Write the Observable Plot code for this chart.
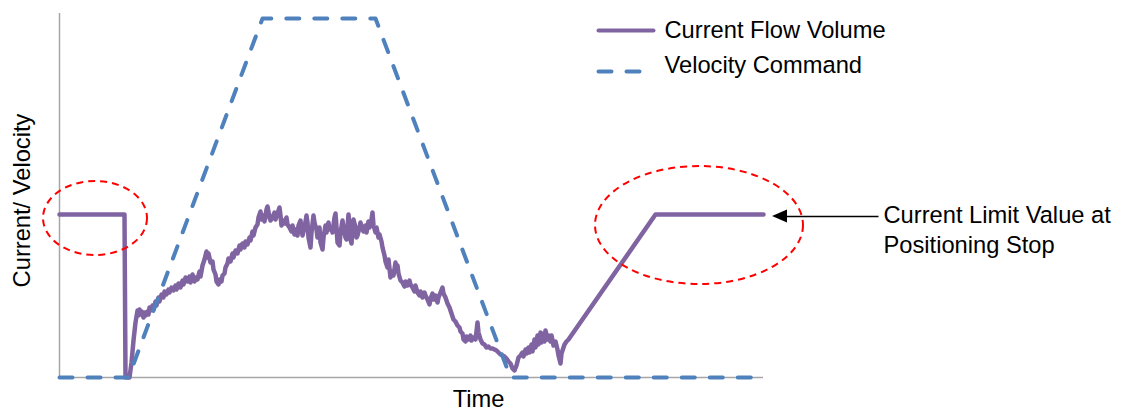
<!DOCTYPE html>
<html><head><meta charset="utf-8">
<script src="https://cdn.jsdelivr.net/npm/d3@7"></script>
<script src="https://cdn.jsdelivr.net/npm/@observablehq/plot@0.6"></script>
<style>body{margin:0;background:#fff;}</style>
</head><body><div id="chart"></div>
<script>
// Current Flow Volume (time units, current units)
const currentTime = [0,65,66,70,72,74,76,78,79,80,81,82,84,85,86,88,89,90,91,93,94,96,97,99,100,102,104,105,107,109,110,112,114,116,117,119,121,123,124,126,128,130,131,133,135,136,138,140,141,143,145,147,148,149,151,153,154,156,157,159,160,162,163,165,166,168,169,171,173,174,176,178,180,181,183,185,186,188,190,191,193,194,196,198,199,201,202,204,205,207,208,210,211,213,215,216,218,220,221,222,224,225,227,228,230,232,233,235,236,238,239,241,242,243,245,247,248,249,251,252,254,255,257,258,260,261,263,264,266,267,269,270,272,273,275,276,277,278,280,281,283,284,286,287,288,289,290,291,292,293,294,296,297,298,300,301,303,304,306,307,309,310,312,313,314,316,317,319,320,322,323,325,326,328,329,331,332,334,336,337,338,339,341,343,345,346,348,350,351,353,355,356,358,360,361,363,365,366,368,370,371,373,374,376,378,379,381,383,384,386,388,390,392,394,396,398,400,401,403,404,406,407,409,411,412,414,416,417,418,419,421,423,425,427,429,431,433,435,437,439,441,443,445,447,449,451,453,455,457,459,461,463,464,466,467,469,470,472,473,475,476,478,479,481,482,484,485,486,488,489,491,492,494,496,498,499,501,502,504,505,507,509,596,704];
const currentValue = [163,163,0,0,15,37,55,67,62,68,63,66,60,65,62,66,63,70,67,72,68,76,72,80,76,83,80,86,83,88,85,90,87,92,88,94,90,97,93,100,96,101,95,103,96,100,98,106,101,112,118,126,120,124,115,116,108,103,96,93,98,96,102,104,110,114,119,116,124,120,127,124,132,128,134,130,136,133,140,137,146,142,150,153,160,166,158,162,156,168,171,160,157,160,165,158,164,170,162,152,157,154,160,153,150,146,152,143,148,142,152,157,148,142,150,162,155,140,130,145,162,155,148,140,150,135,128,140,152,145,155,148,150,145,160,164,150,135,132,145,157,150,140,138,150,163,150,138,134,148,158,150,140,142,150,155,148,146,152,145,156,150,158,165,152,145,150,140,143,136,130,122,116,110,118,100,106,102,115,108,112,104,97,95,91,96,92,97,93,90,86,92,85,82,86,80,85,82,78,73,79,84,78,82,75,80,85,90,84,80,74,70,64,58,56,52,50,46,44,38,36,41,38,42,37,40,38,46,55,45,38,34,33,30,31,29,29,28,27,25,23,22,21,19,16,14,9,7,12,20,22,25,21,28,24,30,25,33,26,38,30,42,33,45,35,44,36,47,38,42,36,42,32,36,28,22,14,24,30,33,36,38,163,163];
// Velocity Command
const velocityTime = [0,69,203,316,451,704];
const velocityValue = [0,0,359,359,0,0];
const seriesNames = ["Current Flow Volume","Velocity Command"];
const xLabel = "Time";
const yLabel = "Current/ Velocity";
const annotationLines = ["Current Limit Value at","Positioning Stop"];

const purple = "#8064a2", blue = "#4f81bd", red = "#ff0000", axisGray = "#a6a6a6";
const current = currentTime.map((t,i)=>({t, v: currentValue[i]}));
const velocity = velocityTime.map((t,i)=>({t, v: velocityValue[i]}));
const font = "'Liberation Sans', Arial, sans-serif";
const fs = 23.7;

const plot = Plot.plot({
  width: 1127, height: 412,
  marginLeft: 59, marginRight: 364, marginTop: 13, marginBottom: 35,
  x: {domain: [0, 704], axis: null},
  y: {domain: [0, 364], axis: null},
  style: {fontFamily: font, background: "#fff", overflow: "visible"},
  marks: [
    Plot.ruleX([0], {y1: 0, y2: 364, stroke: axisGray, strokeWidth: 1.5}),
    Plot.ruleY([0], {x1: 0, x2: 704, stroke: axisGray, strokeWidth: 1.5}),
    Plot.line(current, {x: "t", y: "v", stroke: purple, strokeWidth: 4.5, strokeLinejoin: "round", curve: "linear"}),
    Plot.line(velocity, {x: "t", y: "v", stroke: blue, strokeWidth: 4, strokeDasharray: "13,15", strokeLinecap: "round"}),
    // legend
    Plot.line([{t:539,v:347},{t:594,v:347}], {x:"t", y:"v", stroke: purple, strokeWidth: 4}),
    Plot.line([{t:539,v:306},{t:584,v:306}], {x:"t", y:"v", stroke: blue, strokeWidth: 4, strokeDasharray: "13,15", strokeLinecap: "round"}),
    Plot.text([{t:605,v:347,s:seriesNames[0]},{t:605,v:312,s:seriesNames[1]}], {x:"t", y:"v", text:"s", textAnchor:"start", fontSize: fs, fill:"#000"}),
    // annotation text
    Plot.text([{t:824,v:162,s:annotationLines[0]},{t:824,v:132,s:annotationLines[1]}], {x:"t", y:"v", text:"s", textAnchor:"start", fontSize: fs, fill:"#000"}),
    Plot.link([{x1:819,x2:727,y:161}], {x1:"x1", x2:"x2", y1:"y", y2:"y", stroke:"#000", strokeWidth:1.5}),
    // axis labels
    Plot.text([{t:419,v:-22,s:xLabel}], {x:"t", y:"v", text:"s", fontSize: fs, fill:"#000"}),
    Plot.text([{t:-37,v:177,s:yLabel}], {x:"t", y:"v", text:"s", fontSize: fs, rotate: -90, fill:"#000"})
  ]
});

const sx = plot.scale("x"), sy = plot.scale("y");
const svg = d3.select(plot);
const ellipses = [{cx:36, cy:159, rx:52, ry:37}, {cx:640, cy:152, rx:104, ry:59}];
for (const e of ellipses) {
  const px = sx.apply(e.cx), py = sy.apply(e.cy);
  svg.append("ellipse")
    .attr("cx", px).attr("cy", py)
    .attr("rx", Math.abs(sx.apply(e.cx + e.rx) - px))
    .attr("ry", Math.abs(sy.apply(e.cy + e.ry) - py))
    .attr("fill", "none").attr("stroke", red).attr("stroke-width", 2)
    .attr("stroke-dasharray", "7,5");
}
// arrow head
const tipX = sx.apply(713), tipY = sy.apply(161);
svg.append("polygon")
  .attr("points", `${tipX},${tipY} ${tipX+15},${tipY-6.5} ${tipX+15},${tipY+6.5}`)
  .attr("fill", "#000");

document.getElementById("chart").appendChild(plot);
</script>
</body></html>
